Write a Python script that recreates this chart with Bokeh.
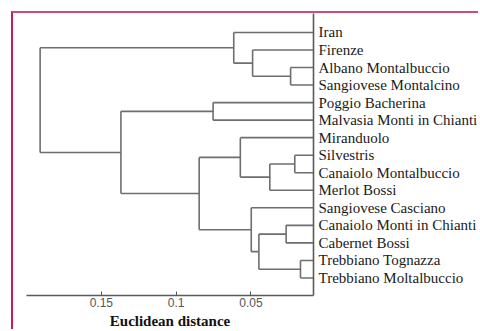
from bokeh.plotting import figure
from bokeh.models import (Range1d, LinearAxis, FixedTicker, NumeralTickFormatter,
                          ColumnDataSource)
from bokeh.embed import file_html
from bokeh.resources import INLINE

# ---- data ----
leaf_names = ["Iran", "Firenze", "Albano Montalbuccio", "Sangiovese Montalcino",
              "Poggio Bacherina", "Malvasia Monti in Chianti", "Miranduolo",
              "Silvestris", "Canaiolo Montalbuccio", "Merlot Bossi",
              "Sangiovese Casciano", "Canaiolo Monti in Chianti", "Cabernet Bossi",
              "Trebbiano Tognazza", "Trebbiano Moltalbuccio"]
# merges: cluster ids 0..14 are leaves, new clusters numbered from 15 on
merge_a = [2, 1, 0, 4, 7, 19, 6, 11, 13, 22, 10, 21, 18, 17]
merge_b = [3, 15, 16, 5, 8, 9, 20, 12, 14, 23, 24, 25, 26, 27]
merge_height = [0.0235, 0.0489, 0.0615, 0.0753, 0.0207, 0.0374, 0.0571,
                0.0265, 0.0169, 0.0447, 0.0498, 0.0846, 0.1369, 0.1909]
leaf_height = 0.0082
x_ticks = [0.15, 0.1, 0.05]

# ---- build dendrogram segments ----
n = len(leaf_names)
node_x = [leaf_height] * n
node_y = [float(i) for i in range(n)]
x0, y0, x1, y1 = [], [], [], []
for a, b, h in zip(merge_a, merge_b, merge_height):
    for c in (a, b):
        x0.append(node_x[c]); y0.append(node_y[c]); x1.append(h); y1.append(node_y[c])
    x0.append(h); y0.append(node_y[a]); x1.append(h); y1.append(node_y[b])
    node_x.append(h)
    node_y.append((node_y[a] + node_y[b]) / 2)

src = ColumnDataSource(dict(x0=x0, y0=y0, x1=x1, y1=y1))

p = figure(width=467, height=318, output_backend="svg", toolbar_location=None,
           x_range=Range1d(0.2, leaf_height), y_range=Range1d(15.0, -1.08),
           y_axis_location=None,
           min_border_left=13, min_border_right=165, min_border_top=0,
           min_border_bottom=35,
           styles={"margin-left": "11px", "margin-top": "11px",
                   "border-left": "2px solid #cc1a55",
                   "border-top": "2px solid #cf4a7c"})
p.outline_line_color = None
p.grid.visible = False
p.background_fill_color = "white"
p.border_fill_color = "white"

p.segment("x0", "y0", "x1", "y1", source=src, line_color="#6e6e6e", line_width=1.6)

# bottom axis
ax = p.xaxis[0]
ax.ticker = FixedTicker(ticks=x_ticks)
ax.formatter = NumeralTickFormatter(format="0.0[0]")
ax.axis_line_color = "#5a5a5a"
ax.axis_line_width = 1.6
ax.major_tick_in = 4
ax.major_tick_out = 0
ax.major_tick_line_color = "#5a5a5a"
ax.minor_tick_line_color = None
ax.major_label_text_font = "Liberation Sans"
ax.major_label_text_font_size = "12px"
ax.major_label_text_color = "#555555"
ax.major_label_standoff = 2
ax.axis_label = "Euclidean distance"
ax.axis_label_text_font = "Liberation Serif"
ax.axis_label_text_font_style = "bold"
ax.axis_label_text_font_size = "15px"
ax.axis_label_text_color = "#111111"
ax.axis_label_standoff = 3

# right axis with leaf names
rax = LinearAxis(ticker=FixedTicker(ticks=list(range(n))),
                 major_label_overrides={i: name for i, name in enumerate(leaf_names)})
rax.axis_line_color = "#5a5a5a"
rax.axis_line_width = 1.6
rax.major_tick_in = 0
rax.major_tick_out = 0
rax.minor_tick_line_color = None
rax.major_label_standoff = 5
rax.major_label_text_font = "Liberation Serif"
rax.major_label_text_font_size = "15px"
rax.major_label_text_color = "#1a1a1a"
p.add_layout(rax, "right")

open("out.html", "w").write(file_html(p, INLINE))
